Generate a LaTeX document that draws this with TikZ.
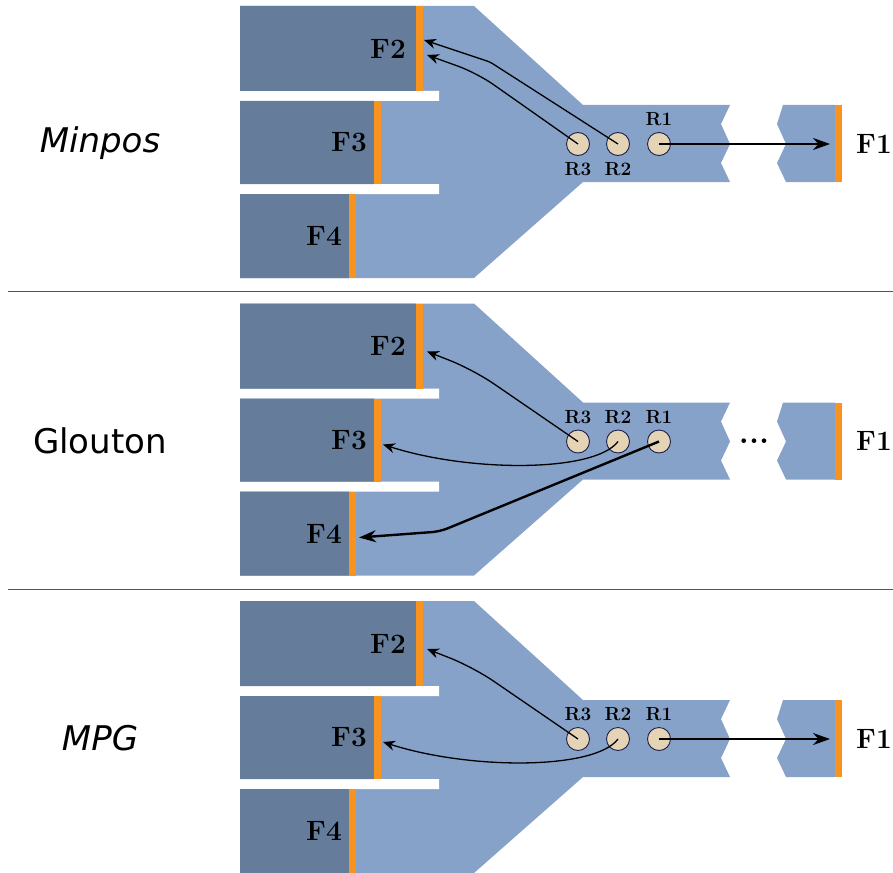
\documentclass[tikz,border=0pt]{standalone}
\usepackage{fontspec}
\usetikzlibrary{arrows.meta, positioning}
\newfontfamily\dejavu{DejaVu Sans}
\definecolor{fluClair}{HTML}{87A2C9}
\definecolor{fluSombre}{HTML}{657C9B}
\definecolor{fluOrange}{HTML}{F7931E}
\definecolor{fluSable}{HTML}{E5D3B6}
\definecolor{fluEncre}{HTML}{1E1E46}
\definecolor{fluTrait}{HTML}{555555}

\begin{document}
\begin{tikzpicture}[x=1pt, y=-1pt,
        voie/.style={fill=fluClair, draw=none},
        file/.style={fill=fluSombre, draw=none},
        barre/.style={fill=fluOrange, draw=none, inner sep=0pt, outer sep=0pt, minimum width=7pt},
        requete/.style={circle, draw=fluEncre, line width=0.9pt, fill=fluSable, minimum size=23pt, inner sep=0pt},
        etiq/.style={font=\fontsize{28}{30}\selectfont\bfseries, inner sep=0pt},
        retiq/.style={font=\fontsize{19}{21}\selectfont\bfseries, inner sep=0pt},
        algo/.style={font=\dejavu\fontsize{34}{38}\selectfont, inner sep=0pt, anchor=base},
        fl/.style={-{Stealth[length=12pt, width=10pt]}, line width=1.3pt},
        flg/.style={-{Stealth[length=17pt, width=12pt]}, line width=2.4pt}]
        \useasboundingbox (0,0) rectangle (893,872);
        \foreach \i/\nom/\forme/\pos/\bas in {0/Minpos/\itshape/below/152, 1/Glouton/\upshape/above/156, 2/MPG/\itshape/above/155}{
          \begin{scope}[shift={(0,\i*297.5)}]
            % voie commune et sortie vers F1
            \path[voie] (240,6) -- (474,6) -- (583,105) -- (730,105) -- (721,124) -- (730,144) -- (721,163) -- (730,182) -- (583,182) -- (474,278) -- (240,278) -- cycle;
            \path[voie] (783,105) -- (835,105) -- (835,182) -- (786,182) -- (777,163) -- (786,144) -- (777,124) -- cycle;
            \path[fill=white] (240,91) rectangle (439,101) (240,184) rectangle (439,194);
            \path[file] (240,6) rectangle (416,91) (240,101) rectangle (374,184) (240,194) rectangle (349,278);
            \node[barre, minimum height=85pt, anchor=north west] (b2-\i) at (416,6) {};
            \node[barre, minimum height=83pt, anchor=north west] (b3-\i) at (374,101) {};
            \node[barre, minimum height=84pt, anchor=north west] (b4-\i) at (349,194) {};
            \node[barre, minimum height=77pt, anchor=north west] (b1-\i) at (835,105) {};
            \node[etiq, anchor=east, left=10pt of b2-\i] (f2-\i) {F2};
            \node[etiq, anchor=east, left=7pt of b3-\i] (f3-\i) {F3};
            \node[etiq, anchor=east, left=7pt of b4-\i] (f4-\i) {F4};
            \node[etiq, anchor=west, right=14pt of b1-\i] (f1-\i) {F1};
            % requetes
            \node[requete] (r3-\i) at (578,144) {};
            \node[requete] (r2-\i) at (618,144) {};
            \node[requete] (r1-\i) at (659,144) {};
            \node[retiq, above=6pt of r1-\i] {R1};
            \node[retiq, \pos=6pt of r2-\i] {R2};
            \node[retiq, \pos=6pt of r3-\i] {R3};
            \node[algo] (nom-\i) at (100,\bas) {\forme\nom};
          \end{scope}
        }
        \draw[fluTrait, line width=1pt] (8,291) -- (893,291);
        \draw[fluTrait, line width=1pt] (8,589) -- (893,589);
        % Minpos
        \coordinate (c2a) at (424,40);
        \coordinate (c2b) at (427,55);
        \coordinate (c1a) at (830,144);
        \draw[fl, rounded corners=3pt] (r2-0.center) -- (490,62) -- (c2a);
        \draw[fl, rounded corners=20pt] (r3-0.center) -- (477,73) -- (c2b);
        \draw[flg] (r1-0.center) -- (c1a);
        % Glouton
        \begin{scope}[shift={(0,297.5)}]
          \coordinate (c2c) at (427,54);
          \coordinate (c3c) at (383,147);
          \coordinate (c4c) at (359,240);
          \node[font=\fontsize{32}{34}\selectfont\bfseries, inner sep=0pt, anchor=base] (pts) at (754,146) {...};
          \draw[fl, rounded corners=25pt] (r3-1.center) -- (473,72) -- (c2c);
          \draw[fl] (r2-1.center) .. controls (595,175) and (470,175) .. (c3c);
          \draw[flg, rounded corners=8pt] (r1-1.center) -- (440,234) -- (c4c);
        \end{scope}
        % MPG
        \begin{scope}[shift={(0,595)}]
          \coordinate (c2e) at (427,54);
          \coordinate (c3e) at (383,147);
          \coordinate (c1e) at (830,144);
          \draw[fl, rounded corners=25pt] (r3-2.center) -- (473,72) -- (c2e);
          \draw[fl] (r2-2.center) .. controls (595,175) and (470,175) .. (c3e);
          \draw[flg] (r1-2.center) -- (c1e);
        \end{scope}
      \end{tikzpicture}
\end{document}
